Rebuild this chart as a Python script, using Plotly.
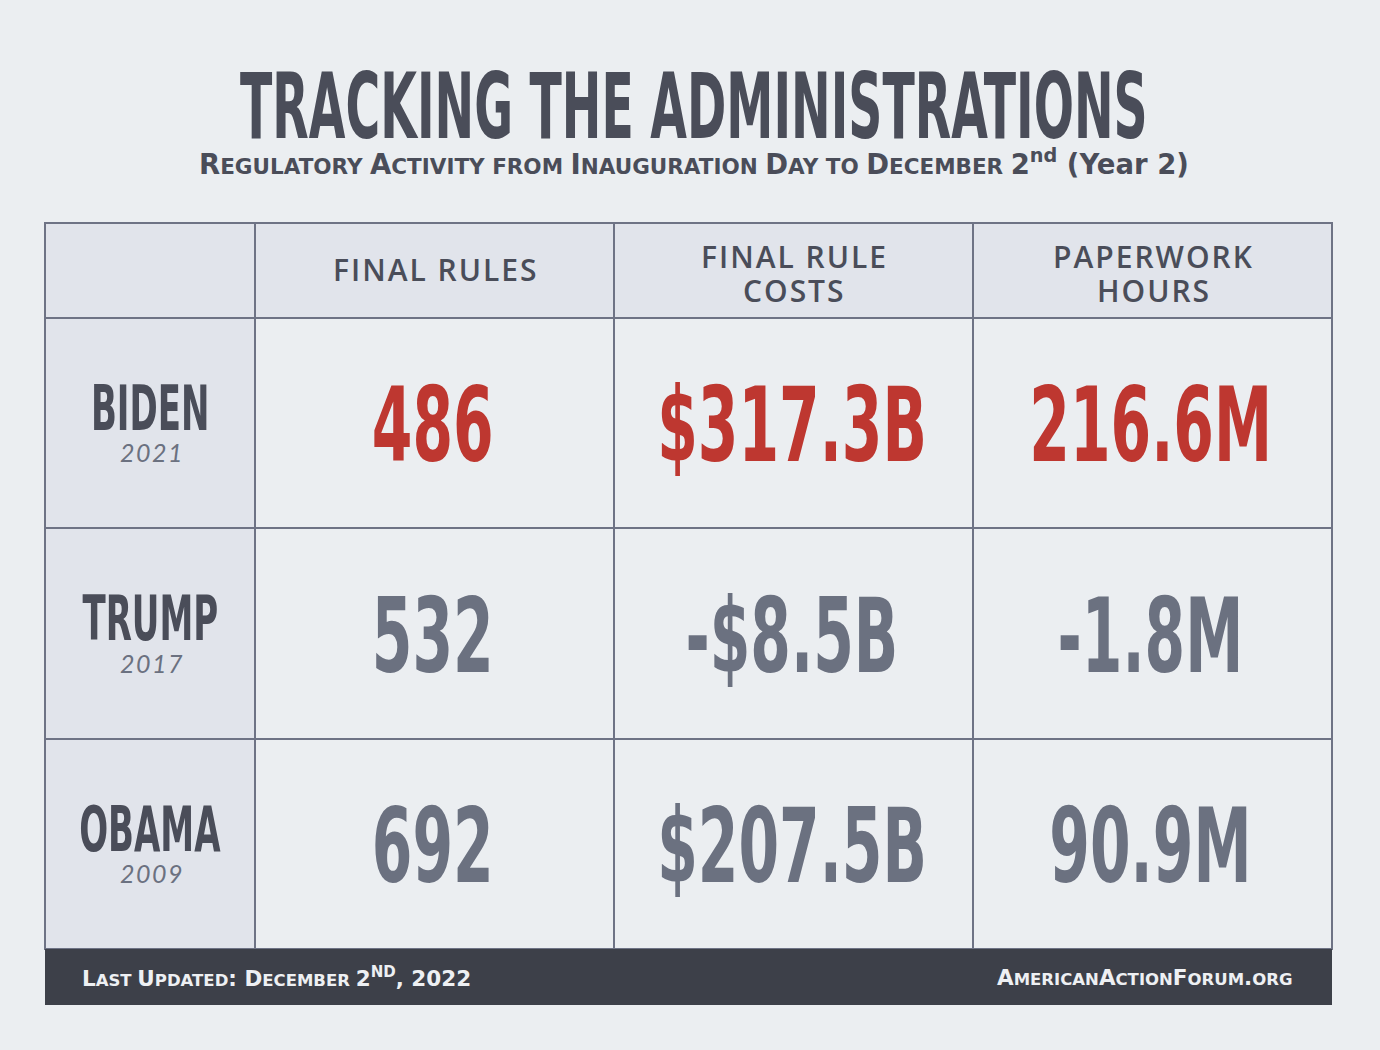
import json
import plotly.graph_objects as go

# data
admins = ["BIDEN", "TRUMP", "OBAMA"]
years = ["2021", "2017", "2009"]
col_titles = [["FINAL RULES"], ["FINAL RULE", "COSTS"], ["PAPERWORK", "HOURS"]]
final_rules = [486, 532, 692]
rule_costs_bn = [317.3, -8.5, 207.5]
paperwork_mn = [216.6, -1.8, 90.9]
highlight = [True, False, False]

title = "TRACKING THE ADMINISTRATIONS"
subtitle = "Regulatory Activity from Inauguration Day to December 2"
footer_left = "Last Updated: December 2"
footer_right = "AmericanActionForum.org"

# colours
bg = "#EBEEF1"
head_fill = "#E1E4EB"
line_col = "#6E7385"
dark = "#4A4D59"
red = "#BE3730"
grey = "#6B7180"
foot_fill = "#3D4049"
foot_txt = "#EEF0F3"

COND = "DejaVu Sans Condensed, sans-serif"   # squeezed further below
PLAIN = "DejaVu Sans, sans-serif"
SANS = "Open Sans, Noto Sans, sans-serif"

# grid edges (pixels)
col_edges = [45, 255, 614, 973, 1332]
row_edges = [223, 318, 528, 739, 949]
foot_bottom = 1005


def small_caps(s, big, small):
    # capitals stay big, lower case letters become small capitals
    out = ""
    cur = None
    buf = ""
    for ch in s:
        kind = "s" if ch.islower() else ("b" if ch != " " else (cur or "b"))
        if kind != cur and buf:
            out += "<span style='font-size:%spx'>%s</span>" % (big if cur == "b" else small, buf.upper())
            buf = ""
        cur = kind
        buf += ch
    if buf:
        out += "<span style='font-size:%spx'>%s</span>" % (big if cur == "b" else small, buf.upper())
    return out


def fmt_cost(v):
    return ("-$%.1fB" % abs(v)) if v < 0 else ("$%.1fB" % v)


def fmt_hours(v):
    return "%.1fM" % v


def cx(c):
    return (col_edges[c] + col_edges[c + 1]) / 2


def cy(r):
    return (row_edges[r] + row_edges[r + 1]) / 2


fig = go.Figure()
shapes = []
annotations = []
squeeze = {}   # annotation index -> horizontal scale


def add_text(scale=None, **kw):
    if scale:
        squeeze[len(annotations)] = scale
    kw.setdefault("showarrow", False)
    kw.setdefault("xanchor", "center")
    kw.setdefault("yanchor", "middle")
    annotations.append(kw)


# cells
for r in range(4):
    for c in range(4):
        fill = head_fill if (r == 0 or c == 0) else bg
        shapes.append(dict(type="rect", xref="x", yref="y",
                           x0=col_edges[c], x1=col_edges[c + 1],
                           y0=row_edges[r], y1=row_edges[r + 1],
                           fillcolor=fill, line=dict(color=line_col, width=2),
                           layer="below"))

# footer band
shapes.append(dict(type="rect", xref="x", yref="y",
                   x0=col_edges[0], x1=col_edges[-1], y0=row_edges[-1], y1=foot_bottom,
                   fillcolor=foot_fill, line=dict(width=0), layer="below"))

# column headers, one annotation per line for a tighter leading
lead = 34
for i, lines in enumerate(col_titles):
    off = 3 if len(lines) > 1 else -1
    top = cy(0) + off - lead * (len(lines) - 1) / 2
    for k, ln in enumerate(lines):
        add_text(x=cx(i + 1) + 1, y=top + k * lead,
                 text="<span style='letter-spacing:2px'>%s</span>" % ln,
                 font=dict(family=SANS, size=30, color=dark, weight=600))

# row labels
for i, (name, yr) in enumerate(zip(admins, years)):
    add_text(scale=0.61, x=cx(0), y=cy(i + 1) - 15, text=name,
             font=dict(family=COND, size=62, color=dark, weight="bold"))
    add_text(x=cx(0) + 2, y=cy(i + 1) + 29,
             text="<span style='letter-spacing:1.5px'>%s</span>" % yr,
             font=dict(family="Lato, sans-serif", size=25, color=grey, style="italic"))

# values
for i in range(3):
    col = red if highlight[i] else grey
    vals = [str(final_rules[i]), fmt_cost(rule_costs_bn[i]), fmt_hours(paperwork_mn[i])]
    for j, v in enumerate(vals):
        add_text(scale=0.63, x=cx(j + 1) - 2, y=cy(i + 1) + 2, text=v,
                 font=dict(family=COND, size=103, color=col, weight="bold"))

# title & subtitle
add_text(scale=0.585, x=694, y=106, text=title,
         font=dict(family=COND, size=90, color=dark, weight="bold"))
add_text(x=694, y=162,
         text=small_caps(subtitle, 27.5, 21.5) + "<sup>nd</sup> <span style='font-size:27.5px'>(Year 2)</span>",
         font=dict(family=PLAIN, size=27.5, color=dark, weight="bold"))

# footer text
add_text(x=80, y=977, xanchor="left",
         text=small_caps(footer_left, 21.5, 16.5) + "<sup>ND</sup><span style='font-size:21.5px'>, 2022</span>",
         font=dict(family=PLAIN, size=21.5, color=foot_txt, weight="bold"))
add_text(x=1295, y=977, xanchor="right", text=small_caps(footer_right, 21.5, 16.5),
         font=dict(family=PLAIN, size=21.5, color=foot_txt, weight="bold"))

fig.update_layout(
    width=1380, height=1050,
    margin=dict(l=0, r=0, t=0, b=0),
    paper_bgcolor=bg, plot_bgcolor=bg,
    xaxis=dict(range=[0, 1380], visible=False, fixedrange=True),
    yaxis=dict(range=[1050, 0], visible=False, fixedrange=True),
    shapes=shapes, annotations=annotations,
    showlegend=False,
)

# condensed display type: squeeze those texts horizontally around their centre
js = """
document.body.style.margin = '0';
var gd = document.getElementById('{plot_id}');
var sx = %s;
function squeezeText() {
  gd.querySelectorAll('g.annotation').forEach(function (g, k) {
    var i = g.getAttribute('data-index') || String(k);
    var s = sx[i];
    if (!s) return;
    var t = g.querySelector('text.annotation-text');
    if (!t) return;
    t.removeAttribute('transform');
    var b = t.getBBox();
    var c = b.x + b.width / 2;
    t.setAttribute('transform', 'translate(' + c + ',0) scale(' + s + ',1) translate(' + (-c) + ',0)');
  });
}
squeezeText();
gd.on('plotly_afterplot', squeezeText);
""" % json.dumps({str(k): v for k, v in squeeze.items()})

fig.write_html("out.html", post_script=js, config={"displayModeBar": False})
